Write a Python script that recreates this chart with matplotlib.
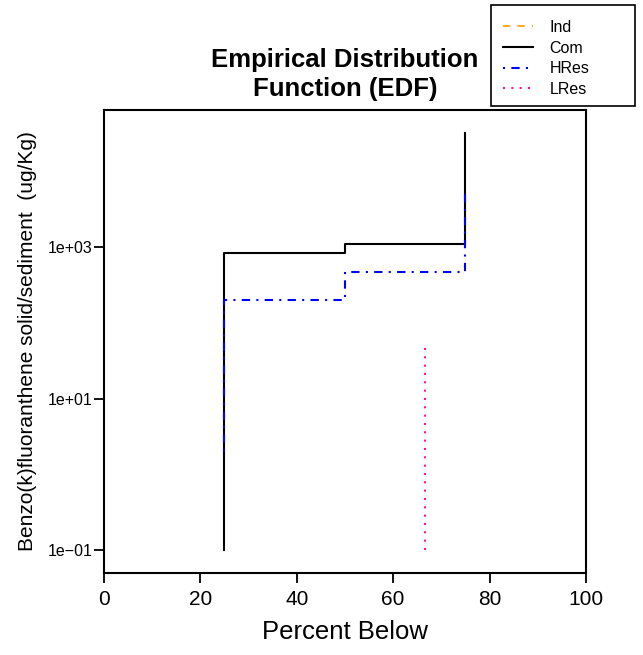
import matplotlib
matplotlib.use("Agg")
import matplotlib.pyplot as plt
from matplotlib.patches import Rectangle

plt.rcParams['font.family'] = ['Liberation Sans', 'DejaVu Sans']

# step data: percent below vs concentration
ind_x = []
ind_y = []
com_x = [25, 25, 50, 75]
com_y = [0.1, 830, 1100, 32000]
hres_x = [25, 25, 50, 75]
hres_y = [2, 200, 467, 5200]
lres_x = [66.7, 66.7]
lres_y = [0.1, 55]

yticks = [0.1, 10, 1000]
ytick_labels = ["1e\u221201", "1e+01", "1e+03"]
xticks = [0, 20, 40, 60, 80, 100]

W, H = 643, 655
fig = plt.figure(figsize=(W / 100, H / 100), dpi=100)
ax = fig.add_axes([0.1617, 0.1252, 0.7496, 0.7068])

ax.plot(ind_x, ind_y, color='orange', linestyle=(0, (4, 4)), lw=1.3, drawstyle='steps-post', label='Ind')
ax.plot(com_x, com_y, color='black', linestyle='-', lw=1.5, drawstyle='steps-post', label='Com')
ax.plot(hres_x, hres_y, color='blue', linestyle=(0, (1, 3, 4, 3)), lw=1.5, drawstyle='steps-post', label='HRes')
ax.plot(lres_x, lres_y, color='#FF1493', linestyle=(0, (1, 3)), lw=1.5, drawstyle='steps-post', label='LRes')

ax.set_yscale('log')
ax.set_xlim(0, 100)
ax.set_ylim(0.0497, 64600)
ax.set_yticks(yticks)
ax.set_yticklabels(ytick_labels, fontsize=11.5)
ax.minorticks_off()
ax.set_xticks(xticks)
ax.set_xticklabels([str(t) for t in xticks], fontsize=15)
ax.tick_params(axis='both', length=7, width=1.3, direction='out')
ax.tick_params(axis='x', pad=5)
ax.tick_params(axis='y', pad=1)
for s in ax.spines.values():
    s.set_linewidth(1.5)

ax.set_xlabel("Percent Below", fontsize=18.5, labelpad=8)
ax.set_ylabel("Benzo(k)fluoranthene solid/sediment  (ug/Kg)", fontsize=15, labelpad=8)
ax.set_title("Empirical Distribution\nFunction (EDF)", fontsize=18.5, fontweight='bold', pad=10,
             linespacing=1.25)

# legend box drawn separately (R style: extra space on the right)
fig.add_artist(Rectangle((491 / W, 1 - 106 / H), 144 / W, 101 / H, transform=fig.transFigure,
                         facecolor='white', edgecolor='black', lw=1.2, zorder=5))
leg = fig.legend(loc='upper left', bbox_to_anchor=(503 / W, 1 - 20 / H), fontsize=11.5,
                 frameon=False, handlelength=1.9, handletextpad=1.0,
                 labelspacing=0.35, borderpad=0, borderaxespad=0)
leg.set_zorder(6)

fig.savefig("out.png", dpi=100)
